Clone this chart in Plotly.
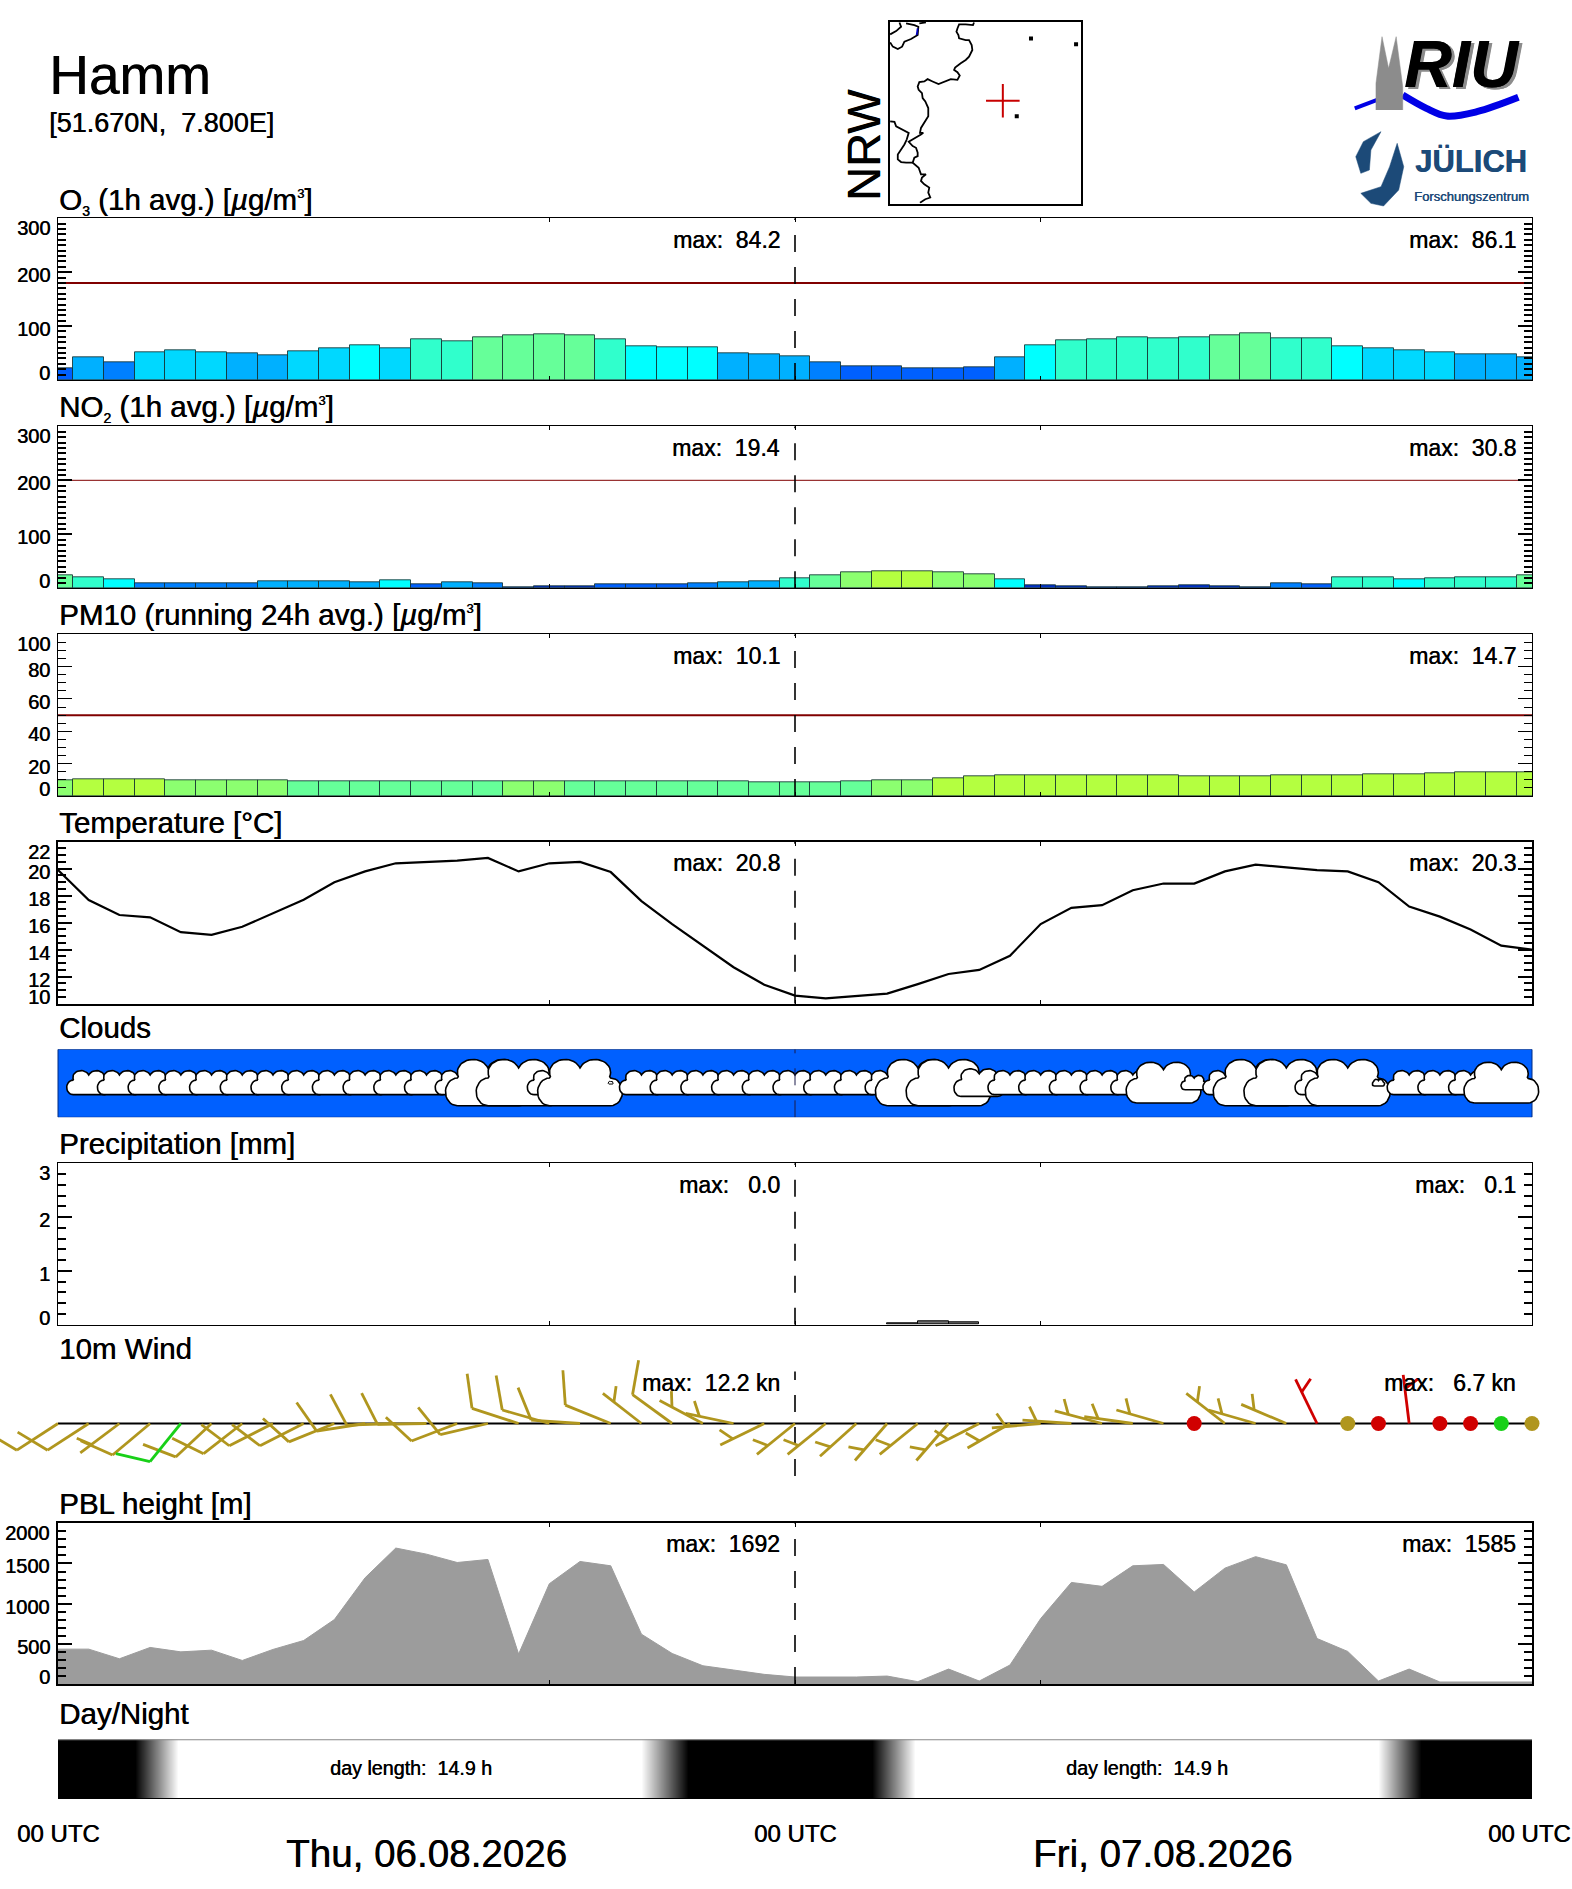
import numpy as np
import plotly.graph_objects as go

W = 1572
H = 1889
FONT = "Liberation Sans"
LEFT = 58
RIGHT = 1532
PX_PER_HOUR = (RIGHT - LEFT) / 48.0

hours = list(range(49))

# values, one per hour 00 UTC .. 00 UTC
o3 = [22, 42, 33, 51, 55, 51, 49, 46, 53, 58, 64, 59, 75, 72, 80, 83, 84.2, 83, 75, 62, 60.5, 60.5, 49, 47.5, 44,
      33, 25, 25, 21.6, 21.6, 23.5, 42, 64, 73.5, 75, 79, 77, 79, 83, 86.1, 77, 77, 62, 59, 55, 51, 47.5, 47.5, 43]
no2 = [25, 19.8, 16, 9.9, 8.6, 8.6, 9.9, 12.3, 12.3, 12.3, 10.5, 14.2, 6.8, 10.5, 8.6, 1.2, 3, 3, 6.8, 6.8, 6.8, 8.6, 10.5, 12.3, 19.4,
       23.5, 29, 30.8, 30.8, 29, 25.3, 16, 5.5, 3, 1.2, 1.2, 3, 5.5, 3, 2, 9.3, 7.9, 19.8, 19.8, 17.5, 18.5, 19.8, 19.8, 23.5]
pm10 = [9.95, 10.1, 10.1, 10.1, 9.95, 9.5, 9.5, 9.7, 8.9, 8.9, 8.9, 8.9, 8.9, 8.9, 8.9, 9.05, 9.05, 8.9, 8.9, 8.9, 8.9, 8.9, 8.9, 8.3, 8.25,
        8.25, 8.9, 9.5, 9.95, 10.9, 12, 12.6, 12.6, 12.6, 12.6, 12.6, 12.6, 12, 12, 12, 12.6, 12.6, 12.6, 13.2, 13.2, 13.8, 14.4, 14.4, 14.7]
temperature = [19.9, 17.68, 16.57, 16.4, 15.3, 15.1, 15.7, 16.7, 17.7, 19.0, 19.8, 20.4, 20.5, 20.6, 20.8, 19.8, 20.4, 20.5, 19.75, 17.6, 15.9, 14.3, 12.7, 11.4, 10.6,
               10.4, 10.55, 10.75, 11.45, 12.2, 12.5, 13.55, 15.9, 17.1, 17.3, 18.4, 18.9, 18.9, 19.8, 20.3, 20.1, 19.9, 19.8, 19.0, 17.2, 16.45, 15.5, 14.3, 14.0]
pbl = [434, 434, 314, 455, 400, 421, 293, 430, 541, 802, 1322, 1692, 1616, 1512, 1550, 372, 1248, 1525, 1471, 620, 380, 227, 174, 120, 87,
       87, 87, 99, 29, 186, 37, 236, 814, 1264, 1215, 1471, 1488, 1145, 1442, 1585, 1483, 566, 405, 37, 186, 25, 25, 25, 25]
precip_hours = [27.5, 28.5, 29.5]
precip = [0.02, 0.07, 0.04]

# 0 = no symbol, 1 = normal low cloud row, larger = more cloud
cloud_cover = [0, 1, 1, 1, 1, 1, 1, 1, 1, 1, 1, 1, 1, 1, 1.93, 1.93, 1, 1.93, 0.12, 1, 1, 1, 1, 1, 1,
               1, 1, 1, 1.93, 1.93, 1.15, 1, 1, 1, 1, 1, 1.7, 0.6, 1, 1.93, 1.93, 1, 1.93, 0.28, 1, 1, 1, 1.7, 0]

wind_dir = [237, 237, 233, 230, 219, 227, 232, 243, 243, 248, 261, 268, 269, 249, 257, 288, 286, 274, 292, 308, 306, 298, 282, 244, 231,
            231, 228, 221, 231, 221, 243, 240, 265, 274, 285, 278, 286, 0, 308, 286, 293, 334, 0, 0, 353, 0, 0, 0, 0]
wind_speed = [11, 11, 6, 11, 11, 11, 11, 11, 10, 10, 10, 11, 11, 10, 10, 11, 11, 10, 11, 6, 12.2, 6, 6, 6, 6,
              5, 5, 5, 5, 6, 6, 6, 6, 6, 6, 6, 6, 2, 6, 6, 6, 6.7, 2, 2, 6, 2, 2, 2, 2]
wind_class = [0, 0, 0, 0, 1, 0, 0, 0, 0, 0, 0, 0, 0, 0, 0, 0, 0, 0, 0, 0, 0, 0, 0, 0, 0,
              0, 0, 0, 0, 0, 0, 0, 0, 0, 0, 0, 0, 2, 0, 0, 0, 2, 0, 2, 2, 2, 2, 1, 0]
WIND_COLOURS = ["#b0961e", "#18d018", "#d00000"]

night_hours = [0, 2.5, 3.9, 19, 20.5, 26.5, 27.9, 43, 44.4, 48]
brightness = [0, 0, 1, 1, 0, 0, 1, 1, 0, 0]

# colour classes
O3_LEVELS = [30, 40, 50, 60, 70, 80]
O3_COLOURS = ["#0060ff", "#0080ff", "#00b0ff", "#00d8ff", "#00ffff", "#30ffcc", "#66ff99"]
NO2_LEVELS = [6, 8, 10, 14, 18, 23, 25.2, 30.5]
NO2_COLOURS = ["#0030c8", "#0060ff", "#0080ff", "#00b0ff", "#00ffff", "#30ffcc", "#66ff99", "#8cff70", "#b4ff40"]
PM_LEVELS = [9, 10]
PM_COLOURS = ["#66ff99", "#8cff70", "#b4ff40"]

# map of NRW, grid units of the small map frame
MAP_X_RANGE = [10, 587]
MAP_Y_RANGE = [558, 10]
border_x = [265, 262, 240, 220, 215, 212, 218, 220, 240, 250, 258, 260, 250, 240, 225, 208, 205, 215, 222, 215, 195, 175, 158, 140, 125,
            115, 100, 95, 98, 108, 110, 118, 127, 127, 115, 105, 102, 112, 105, 85, 68, 80, 90, 95, 95, 85, 80, 98, 105, 120, 108, 105,
            115, 130, 127, 133, 118, 102]
border_y = [12, 20, 18, 18, 30, 40, 50, 60, 65, 65, 80, 95, 115, 125, 135, 148, 155, 162, 172, 185, 183, 190, 198, 190, 183,
            190, 192, 205, 215, 225, 240, 250, 270, 295, 315, 330, 345, 345, 350, 362, 372, 385, 390, 405, 415, 420, 435, 450, 470, 470, 480, 490,
            500, 510, 525, 540, 545, 556]
branch_x = [12, 25, 30, 50, 68, 62, 55, 45, 35, 35, 45, 60, 80]
branch_y = [310, 312, 325, 335, 345, 365, 380, 395, 410, 425, 433, 435, 435]
lake_x = [12, 30, 45, 40, None, 60, 85, 97, 95, 75, 55, 48, 35, 20, 12, None, 100, 120]
lake_y = [48, 38, 25, 12, None, 15, 20, 25, 50, 62, 70, 85, 92, 85, 72, None, 15, 12]
river_x = [95, 92]
river_y = [30, 50]
spot_x = [437, 573, 394]
spot_y = [60, 78, 295]
site_x = [352]
site_y = [248]

fig = go.Figure()
layout = {}
notes = []


def px_x(x):
    return x / W


def px_y(y):
    return 1 - y / H


def text(x, y, s, size, anchor="center", colour="black", family=FONT, angle=0):
    notes.append(dict(x=px_x(x), y=px_y(y), xref="paper", yref="paper", text=s, showarrow=False, xanchor=anchor,
                      yanchor="middle", font=dict(family=family, size=size, color=colour, shadow=f"0.45px 0 0 {colour}"),
                      textangle=angle, borderpad=0))


def bin_colour(v, levels, colours):
    for lim, c in zip(levels, colours):
        if v < lim:
            return c
    return colours[-1]


def add_panel(n, top, bottom, yrange, major, minor, labels, title, title_y, frame=1.0, tick=1.5):
    layout[f"xaxis{n}"] = dict(domain=[px_x(LEFT), px_x(RIGHT)], range=[0, 48], anchor=f"y{n}", showgrid=False, zeroline=False,
                               showticklabels=False, ticks="inside", ticklen=4, tickwidth=1, tickcolor="black", tickvals=[16, 24, 32],
                               showline=True, linecolor="black", linewidth=frame, mirror="allticks")
    layout[f"yaxis{n}"] = dict(domain=[px_y(bottom), px_y(top)], range=yrange, anchor=f"x{n}", showgrid=False, zeroline=False,
                               showticklabels=False, ticks="inside", ticklen=14, tickwidth=tick, tickcolor="black", tickvals=major,
                               minor=dict(ticks="inside", ticklen=8, tickwidth=tick, tickcolor="black", dtick=minor, tick0=0),
                               showline=True, linecolor="black", linewidth=frame, mirror="allticks")
    for v, lab in zip(major, labels):
        shift = -3
        if v == yrange[1]:
            shift = -10
        if v == yrange[0]:
            shift = 7
        notes.append(dict(x=px_x(51), y=v, xref="paper", yref=f"y{n}", text=lab, showarrow=False, xanchor="right", yanchor="middle",
                          yshift=shift, borderpad=0, font=dict(family=FONT, size=20, color="black", shadow="0.45px 0 0 black")))
    text(LEFT, title_y, title, 29.5, "left")


def add_max(y, day1, day2):
    text(781, y, f"max:\u00a0\u00a0{day1}", 23, "right")
    text(1517, y, f"max:\u00a0\u00a0{day2}", 23, "right")


def add_dash(n, top):
    # dash pattern starts at the bottom of the panel
    fig.add_trace(go.Scatter(x=[24, 24], y=[layout[f"yaxis{n}"]["range"][0], top], mode="lines", xaxis=f"x{n}", yaxis=f"y{n}",
                             line=dict(color="black", width=1.6, dash="17px,15px"), hoverinfo="skip", showlegend=False))


def add_bars(n, values, levels, colours, limit, limit_width):
    fig.add_trace(go.Bar(x=hours, y=values, width=1, xaxis=f"x{n}", yaxis=f"y{n}", showlegend=False,
                         marker=dict(color=[bin_colour(v, levels, colours) for v in values],
                                     line=dict(color="rgba(20,50,50,0.85)", width=1))))
    fig.add_trace(go.Scatter(x=[0, 48], y=[limit, limit], mode="lines", xaxis=f"x{n}", yaxis=f"y{n}", showlegend=False,
                             line=dict(color="#800000", width=limit_width)))


# page overlay for the logos, in page pixels
layout["xaxis20"] = dict(domain=[0, 1], range=[0, W], visible=False, anchor="y20")
layout["yaxis20"] = dict(domain=[0, 1], range=[H, 0], visible=False, anchor="x20")


def logo_poly(xs, ys, colour):
    fig.add_trace(go.Scatter(x=[780 + v / 1.98 for v in xs], y=[v / 3 for v in ys], mode="lines", fill="toself", fillcolor=colour,
                             line=dict(color=colour, width=0.5), xaxis="x20", yaxis="y20", showlegend=False, hoverinfo="skip"))


def logo_line(xs, ys, colour, width):
    fig.add_trace(go.Scatter(x=[780 + v / 1.98 for v in xs], y=[v / 3 for v in ys], mode="lines",
                             line=dict(color=colour, width=width, shape="spline"), xaxis="x20", yaxis="y20", showlegend=False, hoverinfo="skip"))


logo_line([1138, 1185], [325, 298], "#0000e6", 4)
logo_line([1233, 1280, 1320, 1380, 1462], [285, 325, 348, 335, 292], "#0000e6", 7)
logo_poly([1180, 1180, 1192, 1205, 1220, 1233, 1233], [330, 250, 110, 205, 110, 260, 330], "#8c8c8c")
logo_poly([1190, 1155, 1140, 1150, 1167, 1170, 1190], [395, 425, 470, 520, 510, 450, 395], "#1c4a78")
logo_poly([1222, 1207, 1190, 1150, 1170, 1195, 1225, 1235, 1222], [430, 500, 560, 580, 610, 618, 570, 500, 430], "#1c4a78")

text(1465, 66, "<b><i>RIU</i></b>", 66, colour="#8c8c8c")
text(1462, 64, "<b><i>RIU</i></b>", 66)
text(1471, 161, "<b>JÜLICH</b>", 31, colour="#1c4a78")
text(1471, 196, "Forschungszentrum", 13, colour="#1c4a78")

# header
text(48, 75, "Hamm", 55, "left")
text(48, 123, "[51.670N,\u00a0\u00a07.800E]", 27, "left")
text(863, 145, "NRW", 47, angle=-90)

# small map
layout["xaxis10"] = dict(domain=[px_x(889.5), px_x(1080.7)], range=MAP_X_RANGE, anchor="y10", showgrid=False, zeroline=False,
                         showticklabels=False, ticks="", showline=True, linecolor="black", linewidth=2, mirror=True)
layout["yaxis10"] = dict(domain=[px_y(203.5), px_y(21.8)], range=MAP_Y_RANGE, anchor="x10", showgrid=False, zeroline=False,
                         showticklabels=False, ticks="", showline=True, linecolor="black", linewidth=2, mirror=True)
for xs, ys, col in [(border_x, border_y, "black"), (branch_x, branch_y, "black"), (lake_x, lake_y, "black"), (river_x, river_y, "#0000c0")]:
    fig.add_trace(go.Scatter(x=xs, y=ys, mode="lines", xaxis="x10", yaxis="y10", showlegend=False, line=dict(color=col, width=1.8)))
fig.add_trace(go.Scatter(x=spot_x, y=spot_y, mode="markers", xaxis="x10", yaxis="y10", showlegend=False,
                         marker=dict(color="black", size=4, symbol="square")))
fig.add_trace(go.Scatter(x=site_x, y=site_y, mode="markers", xaxis="x10", yaxis="y10", showlegend=False,
                         marker=dict(symbol="cross-thin", size=24, line=dict(color="#c80000", width=2))))

SUB3 = "<sub><span style='font-size:14px'>3</span></sub>"
SUB2 = "<sub><span style='font-size:14px'>2</span></sub>"
UNIT = "[<i>µ</i>g/m<sup><span style='font-size:13px'>3</span></sup>]"

# O3
add_panel(1, 218.3, 380, [0, 300], [0, 100, 200, 300], 10, ["0", "100", "200", "300"],
          f"O{SUB3} (1h avg.) {UNIT}", 200.5, tick=2)
add_bars(1, o3, O3_LEVELS, O3_COLOURS, 180, 2)
add_dash(1, 300)
add_max(240.5, "84.2", "86.1")

# NO2
add_panel(2, 426.3, 588.3, [0, 300], [0, 100, 200, 300], 10, ["0", "100", "200", "300"],
          f"NO{SUB2} (1h avg.) {UNIT}", 408, tick=2)
add_bars(2, no2, NO2_LEVELS, NO2_COLOURS, 200, 1)
add_dash(2, 300)
add_max(448, "19.4", "30.8")

# PM10
add_panel(3, 634.3, 796, [0, 100], [0, 20, 40, 60, 80, 100], 5, ["0", "20", "40", "60", "80", "100"],
          f"PM10 (running 24h avg.) {UNIT}", 614, tick=1)
add_bars(3, pm10, PM_LEVELS, PM_COLOURS, 50, 2)
add_dash(3, 100)
add_max(656, "10.1", "14.7")

# temperature
add_panel(4, 841.7, 1003.7, [10, 22], [10, 12, 14, 16, 18, 20, 22], 0.5, ["10", "12", "14", "16", "18", "20", "22"],
          "Temperature [°C]", 822, frame=2)
fig.add_trace(go.Scatter(x=hours, y=temperature, mode="lines", xaxis="x4", yaxis="y4", showlegend=False,
                         line=dict(color="black", width=2.2)))
add_dash(4, 22)
add_max(863, "20.8", "20.3")

# clouds, full page wide so the symbols can run over the panel edge
full_range = [-LEFT / PX_PER_HOUR, (W - LEFT) / PX_PER_HOUR]
layout["xaxis5"] = dict(domain=[0, 1], range=full_range, visible=False, anchor="y5")
layout["yaxis5"] = dict(domain=[px_y(1117.3), px_y(1049.3)], range=[0, 1], visible=False, anchor="x5")
fig.add_trace(go.Scatter(x=[0, 48, 48, 0, 0], y=[0, 0, 1, 1, 0], mode="lines", fill="toself", fillcolor="#0060ff", xaxis="x5", yaxis="y5",
                         line=dict(color="#002a80", width=1), showlegend=False, hoverinfo="skip"))
text(LEFT, 1027, "Clouds", 29.5, "left")


def cloud_outline():
    a1 = np.radians(np.linspace(270, 90, 16))
    u1 = -0.72 + 0.28 * np.cos(a1)
    v1 = -0.4 + 0.6 * np.sin(a1)
    a2 = np.radians(np.linspace(200, 19, 20))
    u2 = -0.35 + 0.37 * np.cos(a2)
    v2 = 0.45 + 0.55 * np.sin(a2)
    u = np.concatenate([u1, u2])
    v = np.concatenate([v1, v2])
    return np.concatenate([u, -u[::-1], u[:1]]), np.concatenate([v, v[::-1], v[:1]])


cloud_u, cloud_v = cloud_outline()
for h, c in zip(hours, cloud_cover):
    if c == 0:
        continue
    half_w = 22.0 * c / PX_PER_HOUR
    half_h = 12.0 * c / 68.0
    fig.add_trace(go.Scatter(x=h + cloud_u * half_w, y=0.51 + cloud_v * half_h, mode="lines", fill="toself", fillcolor="white",
                             line=dict(color="black", width=1.6 if c > 0.2 else 1), xaxis="x5", yaxis="y5", showlegend=False, hoverinfo="skip"))
fig.add_trace(go.Scatter(x=[24, 24], y=[0, 1], mode="lines", xaxis="x5", yaxis="y5", line=dict(color="#1a1a4a", width=1, dash="17px,15px"),
                         showlegend=False, hoverinfo="skip"))

# precipitation
add_panel(6, 1163.3, 1324.7, [0, 3], [0, 1, 2, 3], 0.2, ["0", "1", "2", "3"], "Precipitation [mm]", 1143, tick=2)
fig.add_trace(go.Bar(x=precip_hours, y=precip, width=1, xaxis="x6", yaxis="y6", showlegend=False,
                     marker=dict(color="#707070", line=dict(color="black", width=1))))
add_dash(6, 3)
add_max(1185, "\u00a00.0", "\u00a00.1")

# wind, y axis in pixels around the base line
WIND_TOP = 1340
WIND_BOTTOM = 1490
WIND_BASE = 1423.5
layout["xaxis7"] = dict(domain=[0, 1], range=full_range, visible=False, anchor="y7")
layout["yaxis7"] = dict(domain=[px_y(WIND_BOTTOM), px_y(WIND_TOP)], range=[WIND_BASE - WIND_BOTTOM, WIND_BASE - WIND_TOP], visible=False, anchor="x7")
fig.add_trace(go.Scatter(x=[0, 48], y=[0, 0], mode="lines", xaxis="x7", yaxis="y7", line=dict(color="black", width=1.8), showlegend=False))
fig.add_trace(go.Scatter(x=[24, 24], y=[WIND_BASE - 1476, WIND_BASE - 1371.5], mode="lines", xaxis="x7", yaxis="y7", showlegend=False,
                         line=dict(color="black", width=1.6, dash="17px,15px")))
text(LEFT, 1348, "10m Wind", 29.5, "left")

STAFF = 49.0
seg_x = {0: [], 1: [], 2: []}
seg_y = {0: [], 1: [], 2: []}
calm_x = {0: [], 1: [], 2: []}
calm_y = {0: [], 1: [], 2: []}
for h, d, s, k in zip(hours, wind_dir, wind_speed, wind_class):
    if s < 2.5:
        calm_x[k].append(h)
        calm_y[k].append(0)
        continue
    a = np.radians(d)
    ex, ey = np.sin(a), np.cos(a)
    if s >= 8:
        bx, by = STAFF * ex, STAFF * ey
        blen, rot = 35.0, -64.0
    else:
        bx, by = (STAFF - 14) * ex, (STAFF - 14) * ey
        blen, rot = 16.0, -60.0
    r = np.radians(rot)
    rx = -ey * np.sin(r) + ex * np.cos(r)
    ry = ex * np.sin(r) + ey * np.cos(r)
    seg_x[k] += [h, h + STAFF * ex / PX_PER_HOUR, None, h + bx / PX_PER_HOUR, h + (bx + blen * rx) / PX_PER_HOUR, None]
    seg_y[k] += [0, STAFF * ey, None, by, by + blen * ry, None]
for k, col in enumerate(WIND_COLOURS):
    fig.add_trace(go.Scatter(x=seg_x[k], y=seg_y[k], mode="lines", xaxis="x7", yaxis="y7", line=dict(color=col, width=2.8), showlegend=False,
                             hoverinfo="skip"))
    fig.add_trace(go.Scatter(x=calm_x[k], y=calm_y[k], mode="markers", xaxis="x7", yaxis="y7", marker=dict(color=col, size=15), showlegend=False,
                             cliponaxis=False, hoverinfo="skip"))
add_max(1383, "12.2 kn", "\u00a06.7 kn")

# PBL
add_panel(8, 1523.3, 1684, [0, 2000], [0, 500, 1000, 1500, 2000], 100, ["0", "500", "1000", "1500", "2000"], "PBL height [m]", 1503, frame=1.5)
fig.add_trace(go.Scatter(x=hours, y=pbl, mode="lines", fill="tozeroy", fillcolor="#9c9c9c", line=dict(color="#9c9c9c", width=1),
                         xaxis="x8", yaxis="y8", showlegend=False))
add_dash(8, 2000)
add_max(1544, "1692", "1585")

# day / night
layout["xaxis9"] = dict(domain=[px_x(LEFT), px_x(RIGHT)], range=[0, 48], anchor="y9", showgrid=False, zeroline=False, showticklabels=False,
                        ticks="", showline=True, linecolor="black", linewidth=1)
layout["yaxis9"] = dict(domain=[px_y(1798.3), px_y(1739.3)], range=[0, 1], anchor="x9", showgrid=False, zeroline=False, showticklabels=False,
                        ticks="", showline=False)
fig.add_trace(go.Heatmap(x=night_hours, y=[0, 1], z=[brightness, brightness], xaxis="x9", yaxis="y9", showscale=False, zsmooth="best",
                         zmin=0, zmax=1, colorscale=[[0, "black"], [1, "white"]], hoverinfo="skip"))
fig.add_trace(go.Scatter(x=[0, 48], y=[1, 1], mode="lines", xaxis="x9", yaxis="y9", line=dict(color="#888888", width=2), showlegend=False,
                         hoverinfo="skip"))
text(LEFT, 1713, "Day/Night", 29.5, "left")
text(411, 1768, "day length:\u00a0\u00a014.9 h", 19.7)
text(1147, 1768, "day length:\u00a0\u00a014.9 h", 19.7)

# time axis labels
text(58.5, 1833, "00 UTC", 24)
text(795, 1833, "00 UTC", 24)
text(1529, 1833, "00 UTC", 24)
text(426, 1853, "Thu, 06.08.2026", 38.6)
text(1163, 1853, "Fri, 07.08.2026", 38.6)

fig.update_layout(width=W, height=H, margin=dict(l=0, r=0, t=0, b=0), paper_bgcolor="white", plot_bgcolor="rgba(0,0,0,0)",
                  showlegend=False, bargap=0, annotations=notes, **layout)

fig.write_html("out.html", config=dict(displayModeBar=False),
               post_script="document.body.style.margin='0';document.body.style.overflow='hidden';")
